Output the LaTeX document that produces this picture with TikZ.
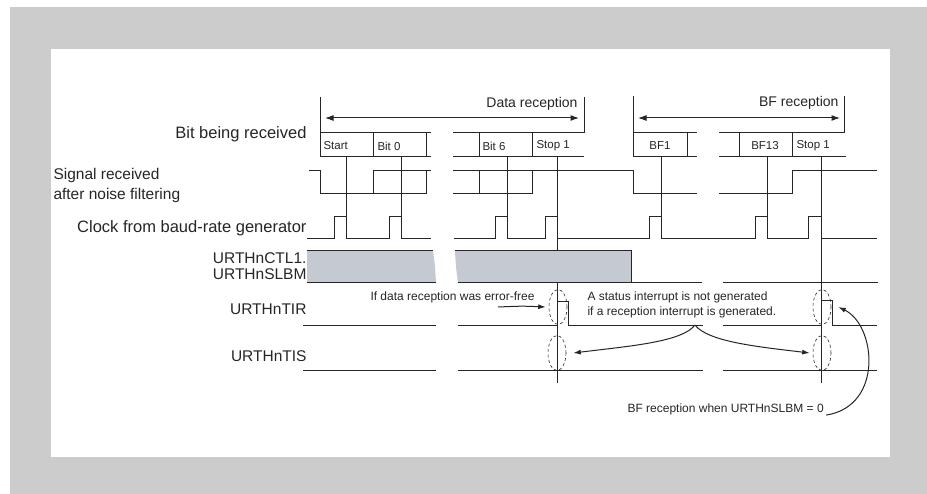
\documentclass[tikz,border=0pt]{standalone}
\usepackage{fontspec}
\setmainfont{Liberation Sans}
\usetikzlibrary{arrows.meta, positioning, shapes.geometric}
\definecolor{framegray}{RGB}{204,204,204}
\definecolor{barfill}{RGB}{197,201,209}
\definecolor{ink}{RGB}{38,38,38}

\begin{document}
\begin{tikzpicture}[x=1pt, y=-1pt, >={Latex[length=8.5pt,width=6pt]}, line width=1pt, ink]
	% Define styles
	\tikzstyle{siglabel} = [font=\fontsize{15.5}{20}\selectfont, inner sep=0pt, anchor=east, align=right]
	\tikzstyle{bitlabel} = [font=\fontsize{11.5}{13}\selectfont, inner sep=0pt]
	\tikzstyle{spanlabel} = [font=\fontsize{14}{16}\selectfont, inner sep=0pt, anchor=east]
	\tikzstyle{note} = [font=\fontsize{12}{15}\selectfont, inner sep=0pt, anchor=west, align=left]
	\tikzstyle{ringmark} = [draw, ellipse, line width=0.6pt, dash pattern=on 3pt off 2.5pt, minimum width=18pt, minimum height=35pt, inner sep=0pt]

	% Frame
	\fill[white] (0,0) rectangle (927,494);
	\fill[framegray] (10,7) rectangle (927,494);
	\fill[white] (51,49) rectangle (890,457);
	\useasboundingbox (0,0) rectangle (927,494);

	% Row labels
	\node[siglabel, font=\fontsize{16.5}{20}\selectfont] (bitrx) at (307,134) {Bit being received};
	\node[siglabel, anchor=west, align=left] (sigrx) at (53,185) {Signal received\\after noise filtering};
	\node[siglabel, font=\fontsize{16.5}{20}\selectfont] (clk) at (307,228) {Clock from baud-rate generator};
	\node[siglabel, font=\fontsize{15.5}{15.5}\selectfont] (slbm) at (307,266) {URTHnCTL1.\\URTHnSLBM};
	\node[siglabel] (tir) at (307,309) {URTHnTIR};
	\node[siglabel] (tis) at (307,356) {URTHnTIS};

	% Data reception span
	\coordinate (datastart) at (320,118);
	\coordinate (dataend) at (584,118);
	\draw (320,97) -- (320,157);
	\draw (584,97) -- (584,133);
	\draw[<->] ([xshift=5]datastart) -- ([xshift=-5]dataend);
	\node[spanlabel] (datalbl) at (578,104) {Data reception};

	% BF reception span
	\coordinate (bfstart) at (633,118);
	\coordinate (bfend) at (844,118);
	\draw (633,96) -- (633,157);
	\draw (844,96) -- (844,133);
	\draw[<->] ([xshift=5]bfstart) -- ([xshift=-4]bfend);
	\node[spanlabel] (bflbl) at (839,103) {BF reception};

	% Bit being received
	\draw (320,133) -- (431,133) (320,157) -- (431,157) (373,133) -- (373,157) (426,133) -- (426,157);
	\draw (453,133) -- (584,133) (453,157) -- (584,157) (479,133) -- (479,157) (532,133) -- (532,157);
	\draw (633,133) -- (697,133) (633,157) -- (697,157) (687,133) -- (687,157);
	\draw (719,133) -- (844,133) (719,157) -- (846,157) (739,133) -- (739,157) (792,133) -- (792,157);
	\node[bitlabel, anchor=west] (bstart) at (323,146) {Start};
	\node[bitlabel, anchor=west] (bzero) at (377,146) {Bit 0};
	\node[bitlabel, anchor=west] (bsix) at (482,146) {Bit 6};
	\node[bitlabel, anchor=west] (bstop) at (536,146) {Stop 1};
	\node[bitlabel] (bfone) at (660,146) {BF1};
	\node[bitlabel] (bfthirteen) at (765,146) {BF13};
	\node[bitlabel, anchor=west] (bfstop) at (796,146) {Stop 1};

	% Signal after noise filtering
	\draw (309,171) -- (320,171) -- (320,194) -- (426,194) -- (426,171) -- (373,171) -- (373,194);
	\draw (426,171) -- (431,171);
	\draw (453,171) -- (633,171) -- (633,194) -- (697,194);
	\draw (453,194) -- (532,194) -- (532,171) (479,171) -- (479,194);
	\draw (719,194) -- (792,194) -- (792,171) -- (877,171);

	% Sampling points
	\draw (346,157) -- (346,239);
	\draw (401,157) -- (401,239);
	\draw (507,157) -- (507,239);
	\draw (661,157) -- (661,239);
	\draw (767,157) -- (767,239);
	\draw (557,157) -- (557,383);
	\draw (821,157) -- (821,383);

	% Clock from baud-rate generator
	\draw (307,239) -- (334,239) -- (334,217) -- (346,217) -- (346,239) -- (389,239) -- (389,217) -- (401,217) -- (401,239) -- (431,239);
	\draw (454,239) -- (495,239) -- (495,217) -- (507,217) -- (507,239) -- (545,239) -- (545,217) -- (557,217) -- (557,239)
		-- (649,239) -- (649,217) -- (661,217) -- (661,239) -- (755,239) -- (755,217) -- (767,217) -- (767,239)
		-- (808,239) -- (808,217) -- (821,217) -- (821,239) -- (877,239);

	% URTHnCTL1.URTHnSLBM
	\fill[barfill] (307,251) -- (433,251) .. controls (435,265) .. (436,283) -- (307,283) -- cycle;
	\draw (307,251) -- (433,251);
	\draw (307,283) -- (436,283);
	\fill[barfill] (455,251) -- (631,251) -- (631,283) -- (458,283) .. controls (456,268) .. (455,251) -- cycle;
	\draw (455,251) -- (631,251) -- (631,283);
	\draw (458,283) -- (702,283);
	\draw (723,283) -- (878,283);

	% URTHnTIR
	\draw (303,326) -- (436,326);
	\draw (458,326) -- (557,326) -- (557,302) -- (568,302) -- (568,326) -- (703,326);
	\draw (723,326) -- (821,326) -- (821,301) -- (832,301) -- (832,326) -- (877,326);

	% URTHnTIS
	\draw (303,371) -- (436,371);
	\draw (458,371) -- (703,371);
	\draw (723,371) -- (877,371);

	% Interrupt marks
	\node[ringmark] (tirA) at (558,307) {};
	\node[ringmark] (tisA) at (557,353) {};
	\node[ringmark] (tirB) at (822,307) {};
	\node[ringmark] (tisB) at (822,353) {};

	% Annotations
	\node[note] (errfree) at (370,297) {If data reception was error-free};
	\coordinate (errtail) at (498,307);
	\draw[->, >={Latex[length=7.5pt,width=5pt]}] (errtail) .. controls (522,306) .. ([xshift=-3]tirA.west);

	\node[note] (nostatus) at (587,305) {A status interrupt is not generated\\if a reception interrupt is generated.};
	\coordinate (cusp) at (695,325);
	\draw[->, >={Latex[length=7.5pt,width=5pt]}] (cusp) .. controls (682,342) and (630,346) .. ([xshift=7]tisA.east);
	\draw[->, >={Latex[length=7.5pt,width=5pt]}] (cusp) .. controls (708,342) and (760,347) .. ([xshift=-3]tisB.west);

	\node[note] (bfnote) at (627,409) {BF reception when URTHnSLBM = 0};
	\draw[->, >={Latex[length=7.5pt,width=5pt]}] ([xshift=2]bfnote.south east) .. controls (884,406) and (876,325) .. ([xshift=7]tirB.east);

\end{tikzpicture}
\end{document}
